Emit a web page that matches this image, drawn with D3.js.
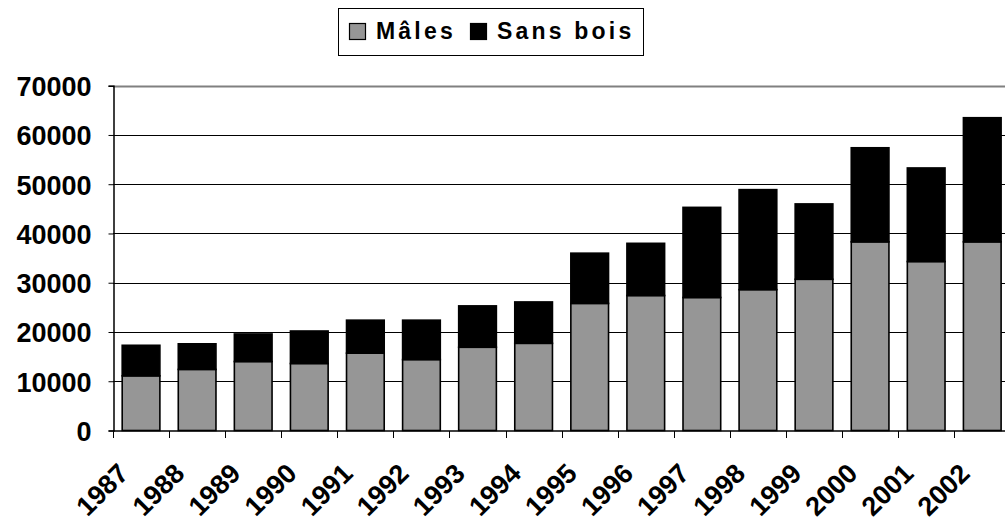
<!DOCTYPE html>
<html><head><meta charset="utf-8">
<script src="https://cdn.jsdelivr.net/npm/d3@7"></script>
<style>body{margin:0;background:#fff}svg{display:block}text{font-family:"Liberation Sans",Arial,sans-serif;font-weight:bold}</style>
</head><body>
<svg id="c" width="1005" height="521"></svg>
<script>
const years = ["1987","1988","1989","1990","1991","1992","1993","1994","1995","1996","1997","1998","1999","2000","2001","2002"];
const males = [11100,12400,14000,13600,15700,14400,16900,17700,25800,27400,27000,28600,30700,38300,34300,38300];
const sansBois = [6200,5200,5600,6600,6700,8000,8400,8400,10200,10600,18300,20300,15300,19100,19000,25200];
const yTicks = [0,10000,20000,30000,40000,50000,60000,70000];
const seriesNames = ["Mâles","Sans bois"];
const seriesColors = ["#969696","#000000"];

const svg = d3.select("#c");
const plotL = 113, plotR = 1010.3, plotT = 85.7, plotB = 430.5;
const x = d3.scaleBand().domain(years).range([plotL, plotR]).paddingInner(0.31).paddingOuter(0.155);
const y = d3.scaleLinear().domain([0,70000]).range([plotB, plotT]);

// gridlines
svg.append("g").selectAll("line").data(yTicks.filter(t=>t>0)).join("line")
  .attr("x1", plotL).attr("x2", plotR)
  .attr("y1", d=>Math.round(y(d))+0.5).attr("y2", d=>Math.round(y(d))+0.5)
  .attr("stroke", d=>d===70000?"#808080":"#000").attr("stroke-width", d=>d===70000?2:1);

// stacked bars
const rows = years.map((yr,i)=>({year:yr, "Mâles":males[i], "Sans bois":sansBois[i]}));
const stack = d3.stack().keys(seriesNames)(rows);
svg.append("g").selectAll("g").data(stack).join("g")
  .attr("fill", (d,i)=>seriesColors[i])
  .selectAll("rect").data(d=>d).join("rect")
  .attr("x", d=>x(d.data.year)+0.5)
  .attr("width", x.bandwidth()-1)
  .attr("y", d=>y(d[1]))
  .attr("height", d=>y(d[0])-y(d[1]))
  .attr("stroke","#000").attr("stroke-width",1.6);

// y axis
const yAxis = d3.axisLeft(y).tickValues(yTicks).tickSize(5).tickPadding(17).tickFormat(d3.format("d"));
const gy = svg.append("g").attr("transform",`translate(${plotL+0.5},0)`).call(yAxis);
gy.select(".domain").attr("stroke","#000").attr("stroke-width",1.5);
gy.selectAll(".tick line").attr("stroke","#000");
gy.selectAll("text").attr("font-size",27).attr("font-family","Liberation Sans, Arial, sans-serif")
  .attr("font-weight","bold").attr("fill","#000").attr("dy","0.37em");

// x axis
const gx = svg.append("g").attr("transform",`translate(0,${plotB+0.5})`);
gx.append("line").attr("x1",plotL).attr("x2",plotR).attr("stroke","#000").attr("stroke-width",1.5);
const bounds = years.map(yr=>x(yr) - x.step()*x.paddingOuter());
gx.selectAll("line.tk").data(bounds).join("line").attr("class","tk")
  .attr("x1",d=>Math.round(d)+0.5).attr("x2",d=>Math.round(d)+0.5).attr("y1",0).attr("y2",7).attr("stroke","#000");
svg.append("g").selectAll("text").data(years).join("text")
  .attr("transform", d=>`translate(${x(d)+x.bandwidth()/2-11},475) rotate(-45)`)
  .attr("text-anchor","end").attr("font-size",27).attr("fill","#000").text(d=>d);

// legend
const lg = svg.append("g");
lg.append("rect").attr("x",338.5).attr("y",8.5).attr("width",305).attr("height",47)
  .attr("fill","#fff").attr("stroke","#000").attr("stroke-width",1);
const legX = [349, 470];
const legTX = [376, 497];
seriesNames.forEach((n,i)=>{
  lg.append("rect").attr("x",legX[i]+0.5).attr("y",23.5).attr("width",16).attr("height",16)
    .attr("fill",seriesColors[i]).attr("stroke","#000").attr("stroke-width",1.2);
  lg.append("text").attr("x",legTX[i]).attr("y",38.5).attr("font-size",23)
    .attr("letter-spacing","3.2px").attr("fill","#000").text(n);
});
</script>
</body></html>
